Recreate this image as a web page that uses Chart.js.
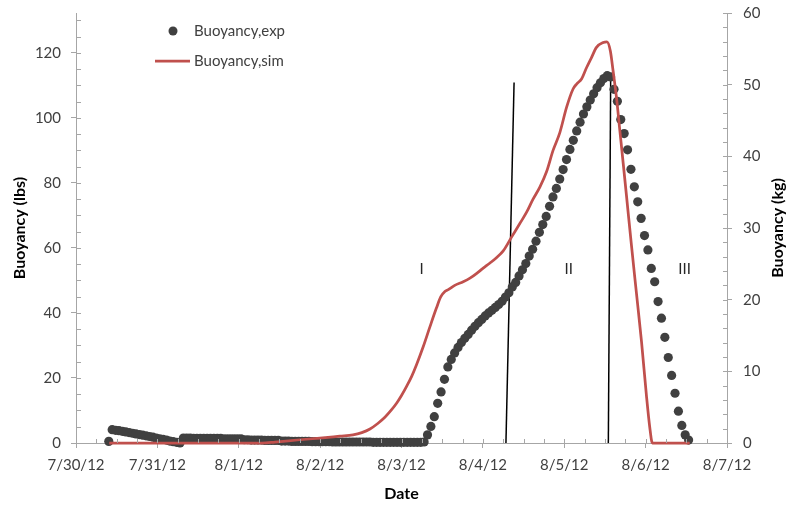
<!DOCTYPE html>
<html>
<head>
<meta charset="utf-8">
<title>Buoyancy</title>
<script src="https://cdn.jsdelivr.net/npm/chart.js@4.4.1/dist/chart.umd.min.js"></script>
<style>
  html, body { margin: 0; padding: 0; background: #fff; }
  canvas { display: block; }
</style>
</head>
<body>
<canvas id="chart" width="787" height="506"></canvas>
<script>
// ---- Data -------------------------------------------------------------
const dateLabels = ['7/30/12', '7/31/12', '8/1/12', '8/2/12', '8/3/12', '8/4/12', '8/5/12', '8/6/12', '8/7/12'];
const lbsTicks = [0, 20, 40, 60, 80, 100, 120];
const kgTicks = [0, 10, 20, 30, 40, 50, 60];
const KG_TO_LBS = 2.20462;

// Measured buoyancy (lbs), one reading per hour; hours counted from 7/30/12 00:00
const expFirstHour = 9.67;
const expStepHours = 1;
const expLbs = [
  0.5,
  4.1, 3.9, 3.8, 3.6, 3.4, 3.2, 3.0, 2.8, 2.6, 2.4, 2.2, 2.0, 1.8, 1.5, 1.3, 1.1, 0.9, 0.6, 0.4, 0.2, 0.0,
  1.5, 1.5, 1.5, 1.4, 1.4, 1.4, 1.4, 1.4, 1.4, 1.4, 1.4, 1.4, 1.3, 1.3, 1.3, 1.3, 1.3, 1.3,
  1.0, 1.0, 0.9, 0.9, 0.9, 0.9, 0.8, 0.8, 0.8, 0.8, 0.8,
  0.6, 0.6, 0.6, 0.5, 0.5, 0.5, 0.5, 0.5, 0.5, 0.4, 0.4,
  0.4, 0.4, 0.4, 0.4, 0.3, 0.3, 0.3, 0.3, 0.3, 0.3, 0.3, 0.3, 0.3, 0.3, 0.3, 0.3,
  0.2, 0.2, 0.2, 0.2, 0.2, 0.2, 0.2, 0.2, 0.2, 0.2, 0.2, 0.2, 0.2, 0.2, 0.2, 0.3,
  2.5, 5.1, 8.1, 12.2, 15.7, 19.6, 23.4, 25.7, 27.7, 29.4,
  30.9, 32.2, 33.4, 34.7, 35.9, 37.0, 38.0, 39.1, 40.0, 40.8,
  41.7, 42.6, 43.6, 44.9, 46.2, 48.0, 49.4, 51.4, 53.3, 55.2,
  57.5, 59.6, 62.1, 64.8, 67.2, 69.7, 72.8, 75.7, 78.3, 81.2,
  84.1, 87.2, 90.3, 93.1, 96.0, 98.7, 101.2, 103.4, 105.5, 107.4,
  109.3, 110.8, 112.1, 113.0, 112.6, 108.8, 105.1, 99.5, 95.2, 90.2,
  84.2, 78.8, 74.2, 69.1, 63.8, 59.4, 53.7, 49.6, 43.5, 38.4,
  32.5, 26.3, 20.8, 15.3, 9.8, 5.4, 2.5, 0.9
];

// Simulated buoyancy (lbs) at hours from 7/30/12 00:00
const simHours = [
  9.8, 54.8, 58.7, 66.0, 71.9, 77.8, 81.7, 84.3, 86.7, 89.0,
  91.1, 92.9, 94.6, 96.0, 97.5, 99.0, 100.4, 102.4, 104.4, 106.3,
  107.6, 108.8, 109.8, 111.7, 114.2, 116.2, 118.1, 120.1, 122.0, 124.0,
  126.0, 128.5, 130.9, 132.9, 134.8, 136.8, 138.8, 140.7, 142.7, 144.7,
  146.6, 147.7, 149.1, 150.6, 152.0, 153.5, 155.5, 156.6, 157.6, 158.4,
  159.4, 160.4, 161.4, 162.4, 163.8, 165.3, 166.8, 168.2, 169.2, 170.0, 181.0
];
const simLbs = [
  0, 0, 0.3, 1.0, 1.5, 2.1, 2.5, 3.2, 4.3, 6.0,
  7.9, 10.0, 12.3, 14.6, 17.4, 20.5, 24.0, 29.6, 35.8, 41.5,
  45.0, 46.6, 47.2, 48.5, 49.6, 50.7, 52.1, 53.8, 55.3, 57.0,
  59.1, 63.4, 67.5, 71.0, 75.0, 78.7, 83.5, 90.0, 95.5, 103.3,
  108.9, 110.5, 112.0, 115.5, 118.5, 121.7, 123.2, 123.4, 120.6, 114.5,
  106.3, 96.1, 85.9, 75.6, 61.0, 46.0, 31.0, 15.0, 5.0, 0, 0
];

// Phase boundaries (hours, lbs) and phase names
const boundary1Hours = [126.8, 129.2];
const boundary1Lbs = [0, 110.9];
const boundary2Hours = [157.0, 157.7];
const boundary2Lbs = [0, 113.2];
const phaseNames = ['I', 'II', 'III'];
const phaseNameHours = [101.9, 145.3, 179.5];
const phaseNameLbs = 53.5;

// ---- Styling ----------------------------------------------------------
const FONT = 'Lato';
const axisColor = '#a6a6a6';
const tickTextColor = '#404040';
const simColor = '#c0504d';
const expColor = '#404040';

const pairs = (xs, ys) => xs.map((x, i) => ({ x: x, y: ys[i] }));

// Short inward tick marks (minor steps) on all three axes
const innerTicks = {
  id: 'innerTicks',
  afterDraw(chart) {
    const { ctx, chartArea: a, scales } = chart;
    ctx.save();
    ctx.strokeStyle = axisColor;
    ctx.lineWidth = 1;
    ctx.beginPath();
    for (let h = 0; h <= 192; h += 6) {
      const px = Math.round(scales.x.getPixelForValue(h)) + 0.5;
      ctx.moveTo(px, a.bottom);
      ctx.lineTo(px, a.bottom - 4);
    }
    for (let v = 0; v <= 130; v += 5) {
      const py = Math.round(scales.y.getPixelForValue(v)) + 0.5;
      ctx.moveTo(a.left, py);
      ctx.lineTo(a.left + 5, py);
    }
    for (let v = 0; v <= 60; v += 2) {
      const py = Math.round(scales.y2.getPixelForValue(v)) + 0.5;
      ctx.moveTo(a.right, py);
      ctx.lineTo(a.right - 4, py);
    }
    ctx.stroke();
    ctx.restore();
  }
};

// Legend, phase names and the right-hand axis title
const annotations = {
  id: 'annotations',
  afterDraw(chart) {
    const { ctx, scales, chartArea: a } = chart;
    const ds = chart.data.datasets;
    ctx.save();
    ctx.font = `15px ${FONT}`;
    ctx.textBaseline = 'middle';
    ctx.textAlign = 'left';

    // legend
    const exp = ds.find(d => d.id === 'exp');
    const sim = ds.find(d => d.id === 'sim');
    ctx.fillStyle = exp.backgroundColor;
    ctx.beginPath();
    ctx.arc(173, 31, 4.5, 0, Math.PI * 2);
    ctx.fill();
    ctx.fillStyle = tickTextColor;
    ctx.fillText(exp.label, 194, 31);

    ctx.strokeStyle = sim.borderColor;
    ctx.lineWidth = sim.borderWidth;
    ctx.beginPath();
    ctx.moveTo(155, 61);
    ctx.lineTo(190, 61);
    ctx.stroke();
    ctx.fillText(sim.label, 194, 61);

    // phase names
    ctx.textAlign = 'center';
    ctx.fillStyle = '#262626';
    phaseNames.forEach((name, i) => {
      ctx.fillText(name, scales.x.getPixelForValue(phaseNameHours[i]), scales.y.getPixelForValue(phaseNameLbs));
    });

    // right axis title, reading upward
    ctx.translate(778, (a.top + a.bottom) / 2);
    ctx.rotate(-Math.PI / 2);
    ctx.font = `bold 16px ${FONT}`;
    ctx.fillStyle = '#000';
    ctx.fillText('Buoyancy (kg)', 0, 0);
    ctx.restore();
  }
};

const tickFont = { family: FONT, size: 15 };
const titleFont = { family: FONT, size: 16, weight: 'bold' };

new Chart(document.getElementById('chart'), {
  data: {
    datasets: [
      {
        type: 'line', id: 'b1', label: 'Phase boundary 1',
        data: pairs(boundary1Hours, boundary1Lbs),
        borderColor: '#000', borderWidth: 1.5, pointRadius: 0,
        xAxisID: 'x', yAxisID: 'y', order: 3, clip: false
      },
      {
        type: 'line', id: 'b2', label: 'Phase boundary 2',
        data: pairs(boundary2Hours, boundary2Lbs),
        borderColor: '#000', borderWidth: 1.5, pointRadius: 0,
        xAxisID: 'x', yAxisID: 'y', order: 3, clip: false
      },
      {
        type: 'scatter', id: 'exp', label: 'Buoyancy,exp',
        data: expLbs.map((v, i) => ({ x: expFirstHour + i * expStepHours, y: v })),
        backgroundColor: expColor, borderColor: expColor, borderWidth: 0,
        pointRadius: 4.6, pointHoverRadius: 4.6,
        xAxisID: 'x', yAxisID: 'y', order: 2, clip: false
      },
      {
        type: 'line', id: 'sim', label: 'Buoyancy,sim',
        data: pairs(simHours, simLbs),
        borderColor: simColor, borderWidth: 2.75, pointRadius: 0,
        cubicInterpolationMode: 'monotone',
        xAxisID: 'x', yAxisID: 'y', order: 1, clip: false
      }
    ]
  },
  options: {
    responsive: false,
    animation: false,
    devicePixelRatio: 1,
    layout: { padding: { top: 13, left: 0, right: 0, bottom: 0 } },
    plugins: {
      legend: { display: false },
      tooltip: { enabled: false }
    },
    scales: {
      x: {
        type: 'linear', position: 'bottom', min: 0, max: 192,
        afterBuildTicks: s => { s.ticks = dateLabels.map((_, i) => ({ value: i * 24 })); },
        afterFit: s => { s.height = 63; s.paddingLeft = 0; s.paddingRight = 0; },
        ticks: {
          font: tickFont, color: tickTextColor, padding: 8, maxRotation: 0, autoSkip: false,
          callback: v => dateLabels[Math.round(v / 24)]
        },
        grid: { drawOnChartArea: false, drawTicks: true, tickLength: 5, color: axisColor },
        border: { display: true, color: axisColor, width: 1 },
        title: { display: true, text: 'Date', font: titleFont, color: '#000', padding: { top: 0, bottom: 3 } }
      },
      y: {
        type: 'linear', position: 'left', min: 0, max: 60 * KG_TO_LBS,
        afterBuildTicks: s => { s.ticks = lbsTicks.map(v => ({ value: v })); },
        afterFit: s => { s.width = 76; s.paddingTop = 0; s.paddingBottom = 0; },
        ticks: { font: tickFont, color: tickTextColor, padding: 10 },
        grid: { drawOnChartArea: false, drawTicks: true, tickLength: 5, color: axisColor },
        border: { display: true, color: axisColor, width: 1 },
        title: { display: true, text: 'Buoyancy (lbs)', font: titleFont, color: '#000', padding: { top: 10, bottom: 0 } }
      },
      y2: {
        type: 'linear', position: 'right', min: 0, max: 60,
        afterBuildTicks: s => { s.ticks = kgTicks.map(v => ({ value: v })); },
        afterFit: s => { s.width = 60; s.paddingTop = 0; s.paddingBottom = 0; },
        ticks: { font: tickFont, color: tickTextColor, padding: 11 },
        grid: { drawOnChartArea: false, drawTicks: true, tickLength: 5, color: axisColor },
        border: { display: true, color: axisColor, width: 1 }
      }
    }
  },
  plugins: [innerTicks, annotations]
});
</script>
</body>
</html>
